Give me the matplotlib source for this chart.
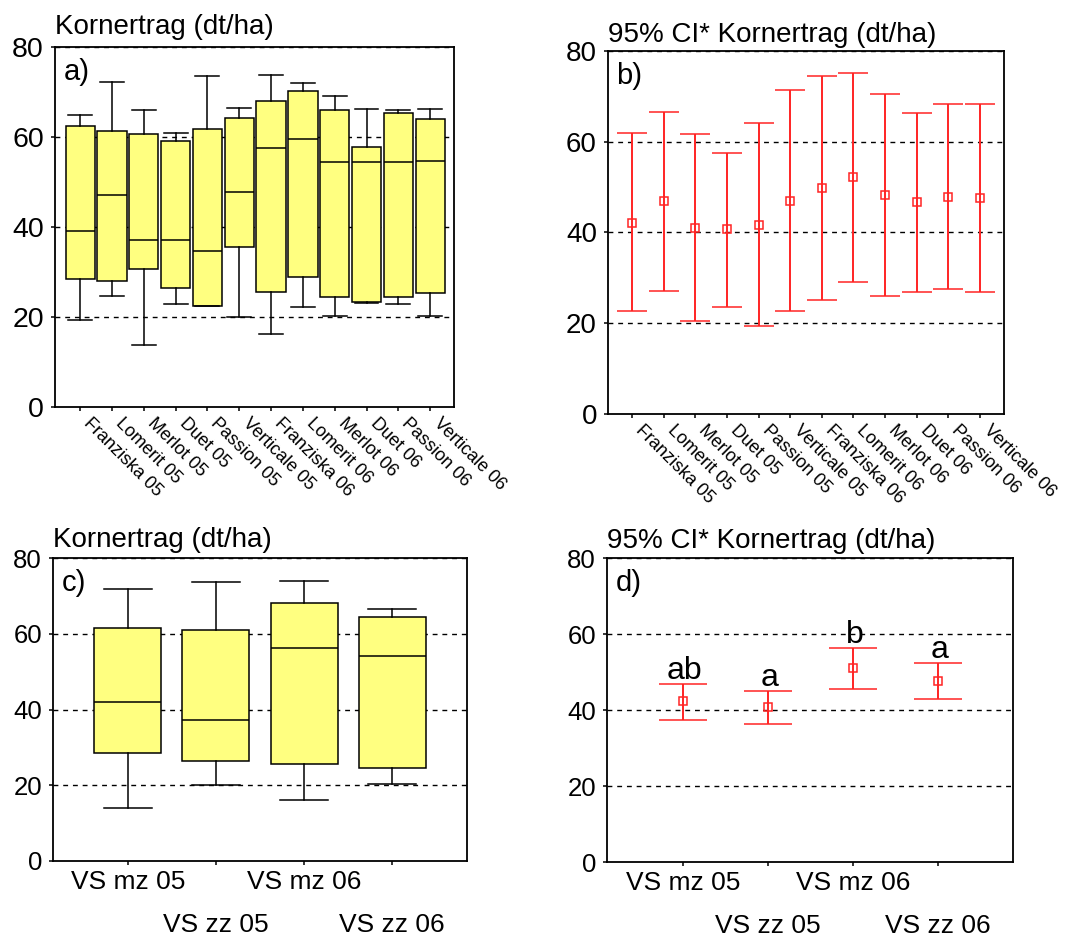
import matplotlib
matplotlib.use("Agg")
import matplotlib.pyplot as plt
import matplotlib.transforms as mt

plt.rcParams['font.family'] = ['Liberation Sans', 'DejaVu Sans']

# ---------------- data ----------------
varieties = ["Franziska 05", "Lomerit 05", "Merlot 05", "Duet 05", "Passion 05", "Verticale 05",
             "Franziska 06", "Lomerit 06", "Merlot 06", "Duet 06", "Passion 06", "Verticale 06"]

# panel a: box plot statistics per variety
a_whislo = [19.4, 24.7, 13.7, 22.8, 22.5, 20.0, 16.3, 22.3, 20.2, 23.2, 22.8, 20.2]
a_q1     = [28.5, 28.1, 30.7, 26.5, 22.5, 35.6, 25.6, 28.8, 24.4, 23.3, 24.4, 25.3]
a_med    = [39.0, 47.2, 37.2, 37.0, 34.6, 47.8, 57.6, 59.6, 54.4, 54.4, 54.4, 54.7]
a_q3     = [62.4, 61.4, 60.6, 59.0, 61.8, 64.3, 68.1, 70.3, 66.1, 57.8, 65.3, 64.1]
a_whishi = [64.8, 72.2, 65.9, 60.9, 73.5, 66.4, 73.7, 71.9, 69.0, 66.2, 65.9, 66.2]

# panel b: mean and 95% CI per variety
b_mean  = [42.2, 47.0, 41.0, 40.7, 41.7, 47.0, 49.7, 52.2, 48.2, 46.7, 47.9, 47.6]
b_lower = [22.6, 27.2, 20.4, 23.5, 19.4, 22.6, 25.1, 29.2, 25.9, 26.9, 27.6, 26.9]
b_upper = [62.0, 66.6, 61.6, 57.6, 64.1, 71.3, 74.4, 75.2, 70.5, 66.3, 68.3, 68.3]

groups = ["VS mz 05", "VS zz 05", "VS mz 06", "VS zz 06"]

# panel c: box plot statistics per group
c_whislo = [14.0, 20.0, 16.1, 20.2]
c_q1     = [28.4, 26.5, 25.5, 24.6]
c_med    = [42.0, 37.1, 56.2, 54.1]
c_q3     = [61.5, 61.1, 68.2, 64.3]
c_whishi = [71.9, 73.6, 73.9, 66.5]

# panel d: mean and 95% CI per group, with significance letters
d_mean  = [42.3, 40.7, 51.1, 47.7]
d_lower = [37.3, 36.2, 45.4, 42.9]
d_upper = [46.8, 45.1, 56.4, 52.5]
d_letters = ["ab", "a", "b", "a"]

yticks = [0, 20, 40, 60, 80]

# ---------------- styling ----------------
BOX_FACE = "#FFFF80"
RED = "#FF2424"
W, H = 1089, 940

fig = plt.figure(figsize=(W / 100, H / 100), dpi=100)


def px_axes(left, top, right, bottom):
    return fig.add_axes([left / W, 1 - bottom / H, (right - left) / W, (bottom - top) / H])


axA = px_axes(55, 47, 454, 407)
axB = px_axes(608, 51, 1004, 414)
axC = px_axes(53, 558, 467, 861)
axD = px_axes(607, 558, 1013, 862)


def base_style(ax, ysize, title, panel, title_dy_px):
    ax.set_ylim(0, 80)
    ax.set_yticks(yticks)
    ax.set_yticklabels([str(v) for v in yticks], fontsize=ysize)
    for s in ax.spines.values():
        s.set_linewidth(1.3)
        s.set_color("black")
    ax.tick_params(axis="both", which="both", direction="out", length=3, width=1.1,
                   color="black", pad=5)
    for gy in [20, 40, 60, 80]:
        ax.axhline(gy, color="black", lw=1.0, ls=(0, (3.5, 3.5)), zorder=0.5)
    ax.text(0.0, 1.0, title, ha="left", va="baseline", fontsize=20, clip_on=False,
            transform=ax.transAxes + mt.ScaledTranslation(0, title_dy_px / 100,
                                                          fig.dpi_scale_trans))
    ax.annotate(panel, xy=(0, 1), xycoords="axes fraction", xytext=(6, -8),
                textcoords="offset points", ha="left", va="top", fontsize=21)


def rotated_labels(ax, xs, labels):
    ax.set_xticks(xs)
    ax.set_xticklabels([])
    for x, lbl in zip(xs, labels):
        ax.annotate(lbl, xy=(x, 0), xycoords=("data", "axes fraction"),
                    xytext=(2.2, -12.5), textcoords="offset points",
                    rotation=-45, rotation_mode="anchor", ha="left", va="baseline",
                    fontsize=13, annotation_clip=False)


def two_row_labels(ax, xs, labels):
    ax.set_xticks(xs)
    ax.set_xticklabels([])
    for i, (x, lbl) in enumerate(zip(xs, labels)):
        dy = -20.2 if i % 2 == 0 else -51.0
        ax.annotate(lbl, xy=(x, 0), xycoords=("data", "axes fraction"),
                    xytext=(0, dy), textcoords="offset points",
                    ha="center", va="baseline", fontsize=19, annotation_clip=False)


box_kw = dict(patch_artist=True, showfliers=False, manage_ticks=False, zorder=2,
              boxprops=dict(facecolor=BOX_FACE, edgecolor="black", linewidth=1.1),
              medianprops=dict(color="black", linewidth=1.1),
              whiskerprops=dict(color="black", linewidth=1.1),
              capprops=dict(color="black", linewidth=1.1))

# ---- panel a ----
xa = list(range(len(varieties)))
statsA = [dict(med=m, q1=q1, q3=q3, whislo=lo, whishi=hi, fliers=[])
          for m, q1, q3, lo, hi in zip(a_med, a_q1, a_q3, a_whislo, a_whishi)]
axA.bxp(statsA, positions=xa, widths=0.92, capwidths=0.75, **box_kw)
axA.set_xlim(-0.79, 11.75)
base_style(axA, 20.5, "Kornertrag (dt/ha)", "a)", 13)
rotated_labels(axA, xa, varieties)

# ---- panel b ----
xb = list(range(len(varieties)))
yerrB = [[m - lo for m, lo in zip(b_mean, b_lower)], [hi - m for m, hi in zip(b_mean, b_upper)]]
axB.errorbar(xb, b_mean, yerr=yerrB, fmt="s", color=RED, ecolor=RED, elinewidth=1.4,
             capsize=10.8, capthick=1.4, markersize=5.5, markerfacecolor="none",
             markeredgecolor=RED, markeredgewidth=1.1, zorder=3)
axB.set_xlim(-0.76, 11.76)
base_style(axB, 20, "95% CI* Kornertrag (dt/ha)", "b)", 9)
rotated_labels(axB, xb, varieties)

# ---- panel c ----
xc = list(range(len(groups)))
statsC = [dict(med=m, q1=q1, q3=q3, whislo=lo, whishi=hi, fliers=[])
          for m, q1, q3, lo, hi in zip(c_med, c_q1, c_q3, c_whislo, c_whishi)]
axC.bxp(statsC, positions=xc, widths=0.76, capwidths=0.54, **box_kw)
axC.set_xlim(-0.85, 3.85)
base_style(axC, 18.5, "Kornertrag (dt/ha)", "c)", 11)
two_row_labels(axC, xc, groups)

# ---- panel d ----
xd = list(range(len(groups)))
yerrD = [[m - lo for m, lo in zip(d_mean, d_lower)], [hi - m for m, hi in zip(d_mean, d_upper)]]
axD.errorbar(xd, d_mean, yerr=yerrD, fmt="s", color=RED, ecolor=RED, elinewidth=1.4,
             capsize=17, capthick=1.4, markersize=5.5, markerfacecolor="none",
             markeredgecolor=RED, markeredgewidth=1.1, zorder=3)
for x, hi, lt in zip(xd, d_upper, d_letters):
    axD.annotate(lt, xy=(x, hi), xytext=(1, 3.5), textcoords="offset points",
                 ha="center", va="baseline", fontsize=23)
axD.set_xlim(-0.89, 3.88)
base_style(axD, 18.5, "95% CI* Kornertrag (dt/ha)", "d)", 10)
two_row_labels(axD, xd, groups)

fig.savefig("out.png", dpi=100)
